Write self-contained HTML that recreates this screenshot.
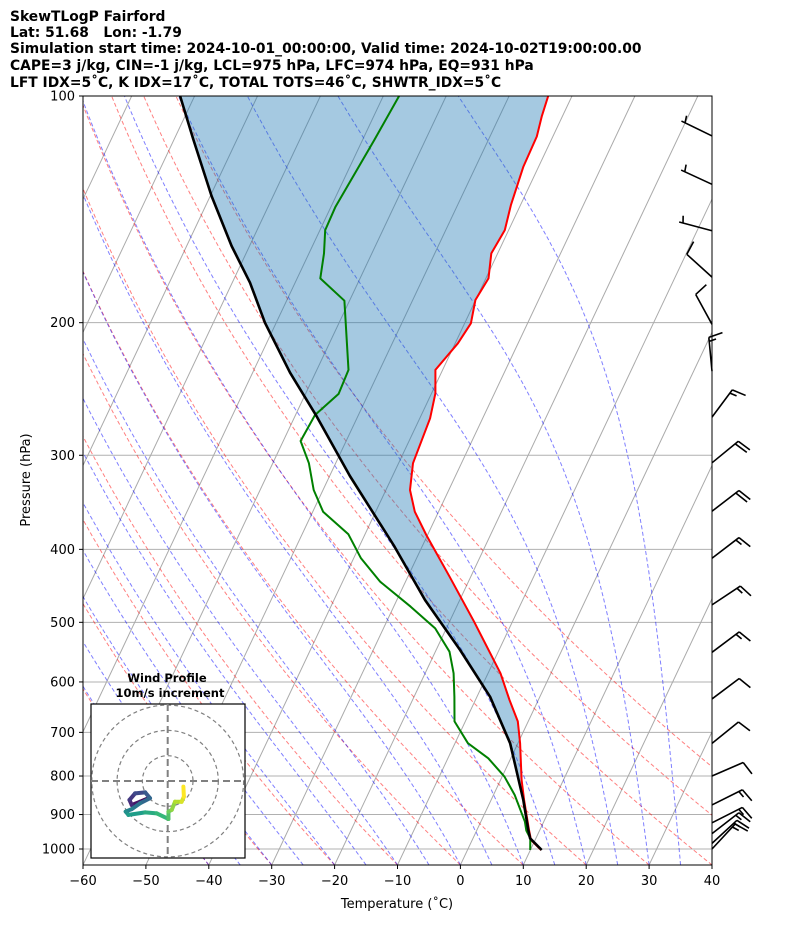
<!DOCTYPE html>
<html><head><meta charset="utf-8"><style>
html,body{margin:0;padding:0;background:#fff;}
svg{display:block;font-family:"DejaVu Sans","Liberation Sans",sans-serif;}
</style></head><body>
<svg id="chart" width="794" height="937" viewBox="0 0 794 937">
<defs><clipPath id="plotclip"><rect x="83" y="96" width="629" height="769"/></clipPath></defs>
<g font-weight="bold" font-size="13.85" fill="#000">
<text x="10" y="21">SkewTLogP Fairford</text>
<text x="10" y="37" xml:space="preserve">Lat: 51.68   Lon: -1.79</text>
<text x="10" y="53">Simulation start time: 2024-10-01_00:00:00, Valid time: 2024-10-02T19:00:00.00</text>
<text x="10" y="70">CAPE=3 j/kg, CIN=-1 j/kg, LCL=975 hPa, LFC=974 hPa, EQ=931 hPa</text>
<text x="10" y="87">LFT IDX=5˚C, K IDX=17˚C, TOTAL TOTS=46˚C, SHWTR_IDX=5˚C</text>
</g>
<g id="bg" clip-path="url(#plotclip)"></g>
<g id="prof" clip-path="url(#plotclip)"></g>
<rect x="83" y="96" width="629" height="769" fill="none" stroke="#000" stroke-width="1"/>
<g id="axes"></g>
<g id="barbs"></g>
<g id="hodo"></g>
</svg>
<script>
// ---- data ----
const tempP = [1003, 972.8, 943.7, 860.9, 809.7, 723.7, 677, 634, 584.4, 499, 434.9, 382.8, 356.5, 333.6, 307.4, 267.9, 248.2, 231.1, 213, 200.4, 186.6, 174.7, 161.8, 150.7, 139.6, 124.1, 113.2, 106.5, 100];
const tempT = [11.7, 9.34, 8.28, 5.25, 3.35, 0.35, -1.66, -4.59, -8.02, -16.1, -23.37, -30.2, -33.77, -36.17, -37.71, -38.36, -39.4, -41.15, -39.57, -39.01, -40.04, -39.58, -41.02, -40.62, -41.52, -42.43, -42.55, -43.27, -43.79];
const dewP = [1003, 967.8, 945, 920, 847.9, 801.7, 757.8, 723.7, 677, 627.8, 584.4, 547, 509.3, 476.7, 441.6, 411.1, 382.0, 356.5, 333.6, 307.4, 287.2, 265.2, 248.7, 231.1, 187.0, 174.7, 161.8, 150.7, 140.3, 114.4, 100];
const dewT = [9.97, 9.1, 7.88, 7.0, 3.38, 0.39, -3.58, -7.95, -11.72, -13.59, -15.48, -17.75, -21.77, -27.29, -34.03, -38.83, -42.64, -48.36, -51.48, -54.26, -57.24, -56.91, -54.73, -54.97, -60.81, -66.32, -67.61, -69.17, -69.29, -68.13, -67.48];
const parcelP = [1003, 967.8, 943.7, 860.9, 723.7, 627.8, 544.1, 467.1, 396.7, 319.6, 266.1, 233, 200.1, 177, 158.2, 135.8, 114.2, 100];
const parcelT = [11.8, 9.07, 8.17, 5.12, -1.24, -7.91, -16.19, -25.51, -34.38, -46.78, -56.59, -64.06, -71.78, -77.17, -82.85, -89.78, -96.94, -102.3];
const barbP = [113, 131, 151, 174, 201, 232, 267, 307, 356, 411, 474, 548, 632, 724, 800, 874, 923, 954, 983, 1000];
const barbU = [4.5, 4.55, 4.85, 7.4, 4.8, 1.4, -9.0, -15.5, -15.9, -11.9, -12.5, -12, -8, -7.8, -9.2, -13.4, -13.4, -11.9, -11, -10.2];
const barbV = [-2.2, -2.1, -1.3, -6.7, -8.8, -15, -12.1, -12.7, -12.2, -9.1, -8.3, -9, -6, -6.3, -4.0, -6.7, -6.8, -9.2, -10.2, -11];
const hodoU = [-7.6, -10.9, -14.2, -15.1, -12.9, -8.9, -7.0, -10.9, -14.2, -16.6, -15.5, -8.9, -4.3, 0.3, 0.3, 1.6, 2.9, 5.5, 6.4, 6.2];
const hodoV = [-6.8, -8.2, -9.5, -7.5, -4.9, -4.5, -6.8, -8.8, -11.1, -12.1, -13.4, -12.4, -12.8, -15.0, -12.1, -11.4, -8.2, -8.2, -6.2, -2.2];
const xTicks = [-60, -50, -40, -30, -20, -10, 0, 10, 20, 30, 40];
const yTicks = [100, 200, 300, 400, 500, 600, 700, 800, 900, 1000];
const dryT0 = [-40,-30,-20,-10,0,10,20,30,40,50,60];
const moistT0 = [-40,-35,-30,-25,-20,-15,-10,-5,0,5,10,15,20,25,30,35];
const isoT = [-160,-150,-140,-130,-120,-110,-100,-90,-80,-70,-60,-50,-40,-30,-20,-10,0,10,20,30,40];

// ---- axes ----
const NS = 'http://www.w3.org/2000/svg';
const X0 = 83, X1 = 712, Y0 = 96, YB = 865, PXC = 6.29, SKEW = 0.4723, PREF = 1050;
function yP(p){ return Y0 + 753 * Math.log10(p / 100); }
function xT(T, p){ return X0 + (T + 60) * PXC + SKEW * (YB - yP(p)); }
function mk(tag, attrs, parent){ const e = document.createElementNS(NS, tag); for (const k in attrs) e.setAttribute(k, attrs[k]); parent.appendChild(e); return e; }
function ptsStr(P, T){ return P.map((p, i) => xT(T[i], p).toFixed(1) + ',' + yP(p).toFixed(1)).join(' '); }

const bg = document.getElementById('bg');
yTicks.forEach(p => {
  const l = mk('line', {x1: X0, x2: X1, y1: yP(p), y2: yP(p), stroke: '#b0b0b0', 'stroke-width': 1}, bg);
  
  
});
isoT.forEach(t => {
  const l = mk('line', {x1: xT(t, 1050), y1: yP(1050), x2: xT(t, 100), y2: yP(100), stroke: '#aaaaaa', 'stroke-width': 1}, bg);
  
  
});
const levs = []; for (let p = 1050; p >= 99; p -= 5) levs.push(p);
dryT0.forEach(t0 => {
  const T0 = t0 + 273.15;
  const pts = levs.map(p => xT(T0 * Math.pow(p / PREF, 0.2857) - 273.15, p).toFixed(1) + ',' + yP(p).toFixed(1)).join(' ');
  const l = mk('polyline', {points: pts, fill: 'none', stroke: 'rgba(255,0,0,0.5)', 'stroke-width': 1, 'stroke-dasharray': '4,2.5'}, bg);
  
  
});
function dTdp(Tk, p){
  const Rd = 287.04, Cp = 1005.7, Lv = 2.501e6, eps = 0.622;
  const Tc = Tk - 273.15; const es = 6.112 * Math.exp(17.67 * Tc / (Tc + 243.5));
  const rs = eps * es / (p - es);
  return (1 / p) * (Rd * Tk + Lv * rs) / (Cp + (Lv * Lv * rs * eps) / (Rd * Tk * Tk));
}
function moist(t0){
  const out = {};
  let T = t0 + 273.15; out[PREF] = T;
  for (let p = PREF; p > 95; p -= 1){ T -= dTdp(T, p); out[p - 1] = T; }
  return out;
}
moistT0.forEach(t0 => {
  const m = moist(t0);
  const pts = levs.map(p => xT(m[p] - 273.15, p).toFixed(1) + ',' + yP(p).toFixed(1)).join(' ');
  const l = mk('polyline', {points: pts, fill: 'none', stroke: 'rgba(0,0,255,0.5)', 'stroke-width': 1, 'stroke-dasharray': '4,2.5'}, bg);
  
  
});

// ---- profiles ----
const prof = document.getElementById('prof');
const fillPts = ptsStr(tempP, tempT) + ' ' + ptsStr(parcelP.slice().reverse(), parcelT.slice().reverse());
const fl = mk('polygon', {points: fillPts, fill: 'rgba(31,119,180,0.4)', stroke: 'none'}, prof);


const tl = mk('polyline', {points: ptsStr(tempP, tempT), fill: 'none', stroke: '#ff0000', 'stroke-width': 2, 'stroke-linejoin': 'round'}, prof);


const dl = mk('polyline', {points: ptsStr(dewP, dewT), fill: 'none', stroke: '#008000', 'stroke-width': 2, 'stroke-linejoin': 'round'}, prof);


const pl = mk('polyline', {points: ptsStr(parcelP, parcelT), fill: 'none', stroke: '#000', 'stroke-width': 2.6, 'stroke-linejoin': 'round'}, prof);



// ---- axis ticks/labels ----
const ax = document.getElementById('axes');
xTicks.forEach(t => {
  const x = X0 + (t + 60) * PXC;
  const tk = mk('line', {x1: x, x2: x, y1: YB, y2: YB + 4, stroke: '#000', 'stroke-width': 1}, ax);
  
  
  const tx = mk('text', {x: x, y: YB + 20, 'text-anchor': 'middle', 'font-size': 13}, ax);
  tx.textContent = String(t).replace('-', '−');
  
  
});
yTicks.forEach(p => {
  const y = yP(p);
  const tk = mk('line', {x1: X0 - 4, x2: X0, y1: y, y2: y, stroke: '#000', 'stroke-width': 1}, ax);
  
  
  const tx = mk('text', {x: X0 - 8, y: y + 4.5, 'text-anchor': 'end', 'font-size': 13}, ax);
  tx.textContent = String(p);
  
  
});
const xl = mk('text', {x: 397, y: 908, 'text-anchor': 'middle', 'font-size': 13}, ax);
xl.textContent = 'Temperature (˚C)';


const yl = mk('text', {x: 30, y: 480, 'text-anchor': 'middle', 'font-size': 13, transform: 'rotate(-90 30 480)'}, ax);
yl.textContent = 'Pressure (hPa)';



// ---- wind barbs ----
const bb = document.getElementById('barbs');
barbP.forEach((p, i) => {
  const u = barbU[i], v = barbV[i];
  const S = Math.hypot(u, v);
  const dx = -u / S, dy = v / S;
  const px = -dy, py = dx;
  const bx = X1, by = yP(p), L = 34;
  const tx = bx + dx * L, ty = by + dy * L;
  let d = `M${bx},${by} L${tx},${ty}`;
  const kts = Math.round(S / 5) * 5;
  let full = Math.floor(kts / 10), half = (kts % 10) >= 5 ? 1 : 0;
  let pos = 0;
  if (full === 0 && half) pos = 4;
  for (let k = 0; k < full; k++){
    const sx = tx - dx * pos, sy = ty - dy * pos;
    d += ` M${sx},${sy} L${sx + px * 14 + dx * 3.5},${sy + py * 14 + dy * 3.5}`;
    pos += 4;
  }
  if (half){
    const sx = tx - dx * pos, sy = ty - dy * pos;
    d += ` M${sx},${sy} L${sx + px * 7 + dx * 1.75},${sy + py * 7 + dy * 1.75}`;
  }
  const e = mk('path', {d: d, fill: 'none', stroke: '#000', 'stroke-width': 1.6}, bb);
  
  
});

// ---- hodograph ----
const hg = document.getElementById('hodo');
const HX = 167.7, HY = 781, HS = 2.53;
const box = mk('rect', {x: 91, y: 704, width: 154, height: 154, fill: '#fff', stroke: '#000', 'stroke-width': 1.2}, hg);


const hclip = mk('clipPath', {id: 'hclip'}, hg);
mk('rect', {x: 91, y: 704, width: 154, height: 154}, hclip);
const hin = mk('g', {'clip-path': 'url(#hclip)'}, hg);
[10, 20, 30].forEach(r => {
  const c = mk('circle', {cx: HX, cy: HY, r: r * HS, fill: 'none', stroke: '#808080', 'stroke-width': 1.2, 'stroke-dasharray': '4,3'}, hin);
  
  
});
const h1 = mk('line', {x1: 91, x2: 245, y1: HY, y2: HY, stroke: '#808080', 'stroke-width': 2, 'stroke-dasharray': '7,4'}, hin);


const h2 = mk('line', {x1: HX, x2: HX, y1: 704, y2: 858, stroke: '#808080', 'stroke-width': 2, 'stroke-dasharray': '7,4'}, hin);


const vir = [[68,1,84],[72,40,120],[62,74,137],[49,104,142],[38,130,142],[31,158,137],[53,183,121],[109,205,89],[180,222,44],[253,231,37]];
function viridis(f){ const s = f * (vir.length - 1); const i = Math.min(Math.floor(s), vir.length - 2); const r = s - i; const a = vir[i], b = vir[i+1]; return `rgb(${Math.round(a[0]+(b[0]-a[0])*r)},${Math.round(a[1]+(b[1]-a[1])*r)},${Math.round(a[2]+(b[2]-a[2])*r)})`; }
for (let i = 0; i < hodoU.length - 1; i++){
  const s = mk('line', {x1: HX + hodoU[i] * HS, y1: HY - hodoV[i] * HS, x2: HX + hodoU[i+1] * HS, y2: HY - hodoV[i+1] * HS, stroke: viridis(i / (hodoU.length - 2)), 'stroke-width': 4, 'stroke-linecap': 'round'}, hin);
  
  
}
const ht1 = mk('text', {x: 167, y: 682, 'text-anchor': 'middle', 'font-size': 11.5, 'font-weight': 'bold'}, hg);
ht1.textContent = 'Wind Profile';


const ht2 = mk('text', {x: 170, y: 697, 'text-anchor': 'middle', 'font-size': 11.5, 'font-weight': 'bold'}, hg);
ht2.textContent = '10m/s increment';


</script>
</body></html>
